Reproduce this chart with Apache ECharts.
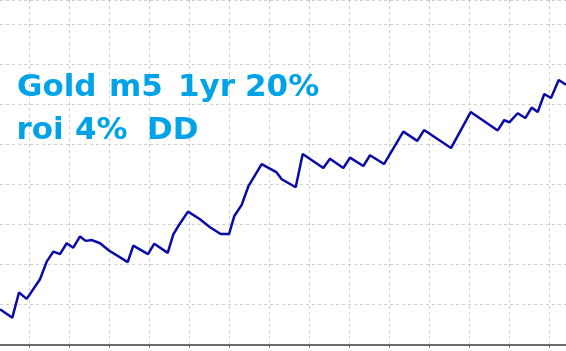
<!DOCTYPE html>
<html>
<head>
<meta charset="utf-8">
<script src="https://cdn.jsdelivr.net/npm/echarts@6/dist/echarts.min.js"></script>
<style>
html,body{margin:0;padding:0;background:#fff;}
#chart{width:566px;height:351px;}
</style>
</head>
<body>
<div id="chart"></div>
<script>
// Equity curve (x: time position, y: balance in arbitrary units)
const timePos = [0,12.3,19,26.7,40,46.7,53.3,60,66.7,73.3,80,85.7,92,100,109,127.7,133.3,148,154.3,167.7,173.3,178.3,188,200,210,220.7,229,234.3,241.7,248.3,261.7,276.7,281.7,295.7,302.7,323.3,330,343.3,350,363.3,370,384,403.3,417.3,424,451,470.7,497.7,504.3,509.3,517.7,525.3,531.7,537.7,544.3,551,558.7,566];
const balance = [88,67,130,114,163,207,232,226,253,242,270,259,261,253,235,206,247,226,252,229,275,296,332,313,293,276,276,321,349,395,451,430,413,393,476,441,464,441,467,446,473,451,532,509,536,491,581,535,561,555,578,566,592,581,626,616,661,649];
const titleLine1 = ["Gold","m5","1yr","20%"];
const titleLine2 = ["roi","4%","DD"];

const chart = echarts.init(document.getElementById('chart'), null, {renderer:'canvas'});
const seriesData = timePos.map((t,i)=>[t,balance[i]]);

const textStyleBase = {fill:'#00A2E8', font:'bold 31px "DejaVu Sans", Verdana, sans-serif', verticalAlign:'middle', align:'left'};
const w1x = [17,109,178,245];
const w2x = [16.5,75,147];
const graphics = [];
titleLine1.forEach((w,i)=>graphics.push({type:'text', x:w1x[i], y:87.5, style:Object.assign({text:w}, textStyleBase), z:100}));
titleLine2.forEach((w,i)=>graphics.push({type:'text', x:w2x[i], y:130.5, style:Object.assign({text:w}, textStyleBase), z:100}));

const dashed = {color:'#cfcfcf', width:1, type:[3,3]};

chart.setOption({
  animation:false,
  backgroundColor:'#ffffff',
  grid:[
    {left:0, right:0, top:0, bottom:6.5, containLabel:false},
    {left:29, right:0, top:0, bottom:6.5, containLabel:false}
  ],
  xAxis:[{
    gridIndex:0, type:'value', min:0, max:566,
    axisLine:{show:true, onZero:false, lineStyle:{color:'#6a6a6a', width:2}},
    axisTick:{show:false}, axisLabel:{show:false}, splitLine:{show:false}
  },{
    gridIndex:1, type:'value', min:0, max:537, interval:40,
    axisLine:{show:false, onZero:false},
    axisTick:{show:true, length:3, lineStyle:{color:'#6a6a6a', width:1}},
    axisLabel:{show:false},
    splitLine:{show:true, lineStyle:dashed}
  }],
  yAxis:[{
    gridIndex:0, type:'value', min:0, max:861, interval:100,
    axisLine:{show:false}, axisTick:{show:false}, axisLabel:{show:false},
    splitLine:{show:true, lineStyle:dashed}
  },{
    gridIndex:1, type:'value', min:0, max:861, show:false, splitLine:{show:false}
  }],
  series:[{
    type:'line', xAxisIndex:0, yAxisIndex:0, data:seriesData, showSymbol:false, symbol:'none',
    lineStyle:{color:'#0a0aa8', width:2.5}, clip:true, z:5
  }],
  graphic:graphics
});
</script>
</body>
</html>
